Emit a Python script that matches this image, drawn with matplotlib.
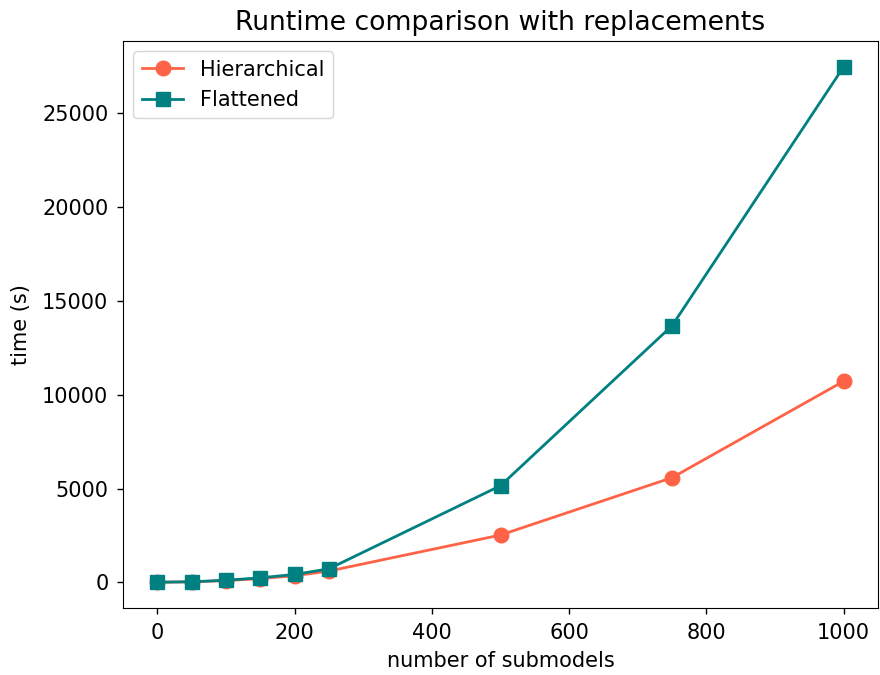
import matplotlib
matplotlib.use("Agg")
import matplotlib.pyplot as plt

submodels = [0, 50, 100, 150, 200, 250, 500, 750, 1000]
hierarchical = [5, 25, 90, 200, 350, 600, 2520, 5580, 10720]
flattened = [5, 30, 110, 240, 420, 720, 5150, 13680, 27480]

fig = plt.figure(figsize=(8.8, 6.75), dpi=100)
ax = fig.add_axes([123 / 880, 1 - 608 / 675, (878 - 123) / 880, (608 - 41) / 675])
ax.plot(submodels, hierarchical, color="tomato", marker="o", markersize=10.5, linewidth=2, label="Hierarchical")
ax.plot(submodels, flattened, color="teal", marker="s", markersize=10.5, linewidth=2, label="Flattened")
ax.set_title("Runtime comparison with replacements", fontsize=19.2, pad=8)
ax.set_xlabel("number of submodels", fontsize=15, labelpad=6)
ax.set_ylabel("time (s)", fontsize=15, labelpad=8)
ax.tick_params(labelsize=15, length=4.5, width=1, pad=6)
ax.legend(loc="upper left", fontsize=15)
fig.savefig("out.png", dpi=100)
